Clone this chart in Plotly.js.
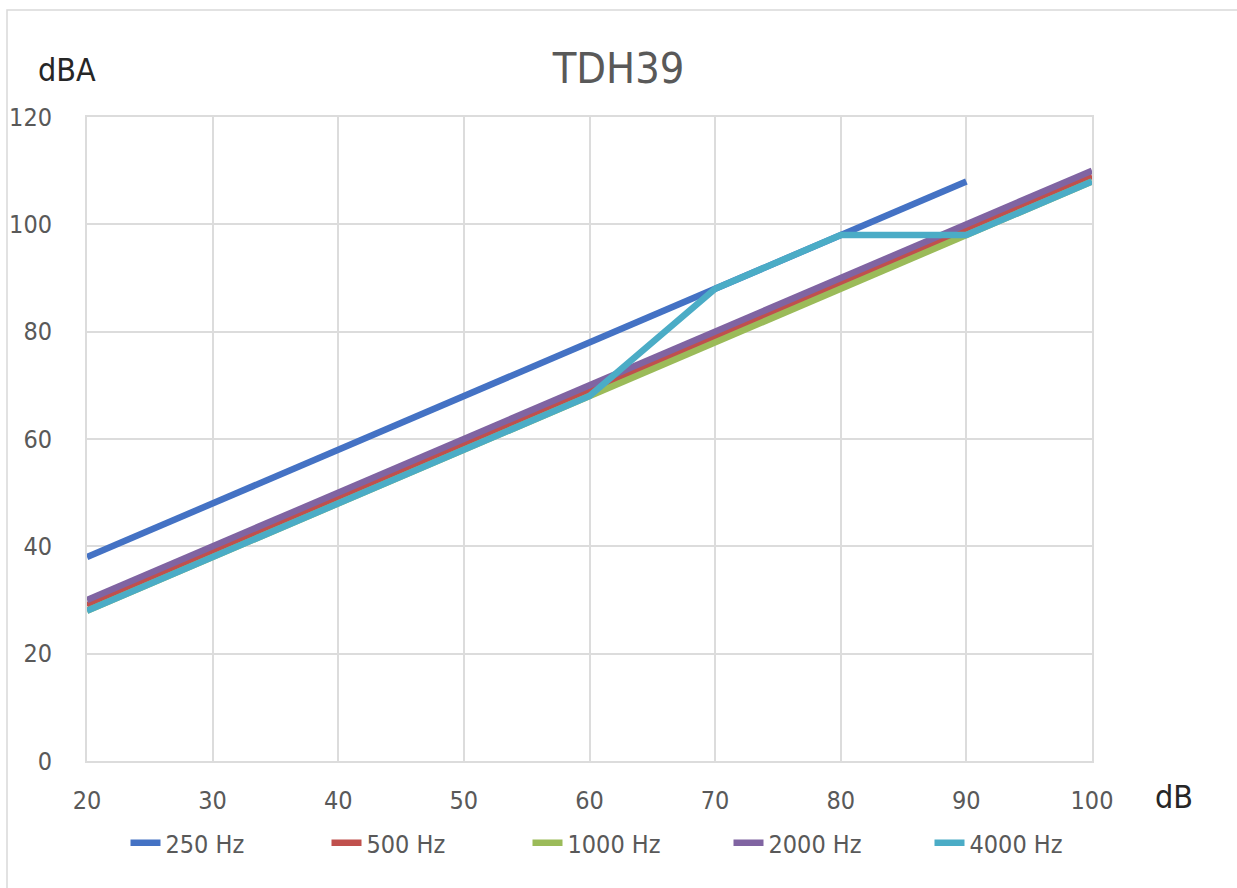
<!DOCTYPE html>
<html>
<head>
<meta charset="utf-8">
<script src="https://cdn.plot.ly/plotly-3.0.1.min.js"></script>
<style>
html,body{margin:0;padding:0;background:#fff;}
#chart{width:1237px;height:888px;}
</style>
</head>
<body>
<div id="chart"></div>
<script>
const xValues = [20, 30, 40, 50, 60, 70, 80, 90, 100];
const seriesNames = ["250 Hz", "500 Hz", "1000 Hz", "2000 Hz", "4000 Hz"];
const hz250 = [38, 48, 58, 68, 78, 88, 98, 108, null];
const hz500 = [29, 39, 49, 59, 69, 79, 89, 99, 109];
const hz1000 = [28, 38, 48, 58, 68, 78, 88, 98, 108];
const hz2000 = [30, 40, 50, 60, 70, 80, 90, 100, 110];
const hz4000 = [28, 38, 48, 58, 68, 88, 98, 98, 108];
const colors = ["#4472C4", "#C0504D", "#9BBB59", "#8064A2", "#4BACC6"];
const yTicks = [0, 20, 40, 60, 80, 100, 120];
const xTicks = [20, 30, 40, 50, 60, 70, 80, 90, 100];

const allSeries = [hz250, hz500, hz1000, hz2000, hz4000];
const fontFam = '"DejaVu Sans Condensed", "Liberation Sans Narrow", "Liberation Sans", Arial, sans-serif';

const traces = allSeries.map((ys, i) => ({
  type: 'scatter',
  mode: 'lines',
  x: xValues,
  y: ys,
  name: seriesNames[i],
  connectgaps: false,
  line: {color: colors[i], width: 6.5}
}));

const layout = {
  width: 1237,
  height: 888,
  margin: {l: 87, r: 145, t: 117, b: 127},
  paper_bgcolor: '#fff',
  plot_bgcolor: '#fff',
  font: {family: fontFam, color: '#595959', size: 25},
  title: {text: 'TDH39', x: 0.5, xanchor: 'center', y: 1 - 68/888, yanchor: 'middle',
          font: {family: fontFam, size: 43, color: '#595959'}},
  showlegend: true,
  legend: {orientation: 'h', x: (628-87)/1005, xanchor: 'center', y: (761-843)/644, yanchor: 'middle',
           font: {family: fontFam, size: 25, color: '#595959'}, traceorder: 'normal',
           entrywidth: 156, entrywidthmode: 'pixels'},
  xaxis: {
    range: [20, 100], tickvals: xTicks, ticktext: xTicks.map(String),
    showgrid: true, gridcolor: '#dcdcdc', gridwidth: 2, zeroline: false,
    showline: true, linecolor: '#dcdcdc', linewidth: 2, mirror: true,
    ticks: 'outside', ticklen: 16, tickcolor: 'rgba(0,0,0,0)', fixedrange: true
  },
  yaxis: {
    range: [0, 120], tickvals: yTicks, ticktext: yTicks.map(String),
    showgrid: true, gridcolor: '#dcdcdc', gridwidth: 2, zeroline: false,
    showline: true, linecolor: '#dcdcdc', linewidth: 2, mirror: true,
    ticks: 'outside', ticklen: 28, tickcolor: 'rgba(0,0,0,0)', fixedrange: true
  },
  annotations: [
    {text: 'dBA', xref: 'paper', yref: 'paper', x: (36-87)/1005, y: 1 + (117-70)/644,
     xanchor: 'left', yanchor: 'middle', showarrow: false, font: {family: fontFam, size: 32, color: '#262626'}},
    {text: 'dB', xref: 'paper', yref: 'paper', x: (1153-87)/1005, y: (761-797)/644,
     xanchor: 'left', yanchor: 'middle', showarrow: false, font: {family: fontFam, size: 32, color: '#262626'}}
  ],
  shapes: [
    {type: 'rect', xref: 'paper', yref: 'paper', x0: (7-87)/1005, x1: (1245-87)/1005,
     y0: (761-900)/644, y1: 1 + (117-10)/644, line: {color: '#d9d9d9', width: 1.5}, layer: 'below'}
  ]
};

Plotly.newPlot('chart', traces, layout, {displayModeBar: false, staticPlot: true});
</script>
</body>
</html>
